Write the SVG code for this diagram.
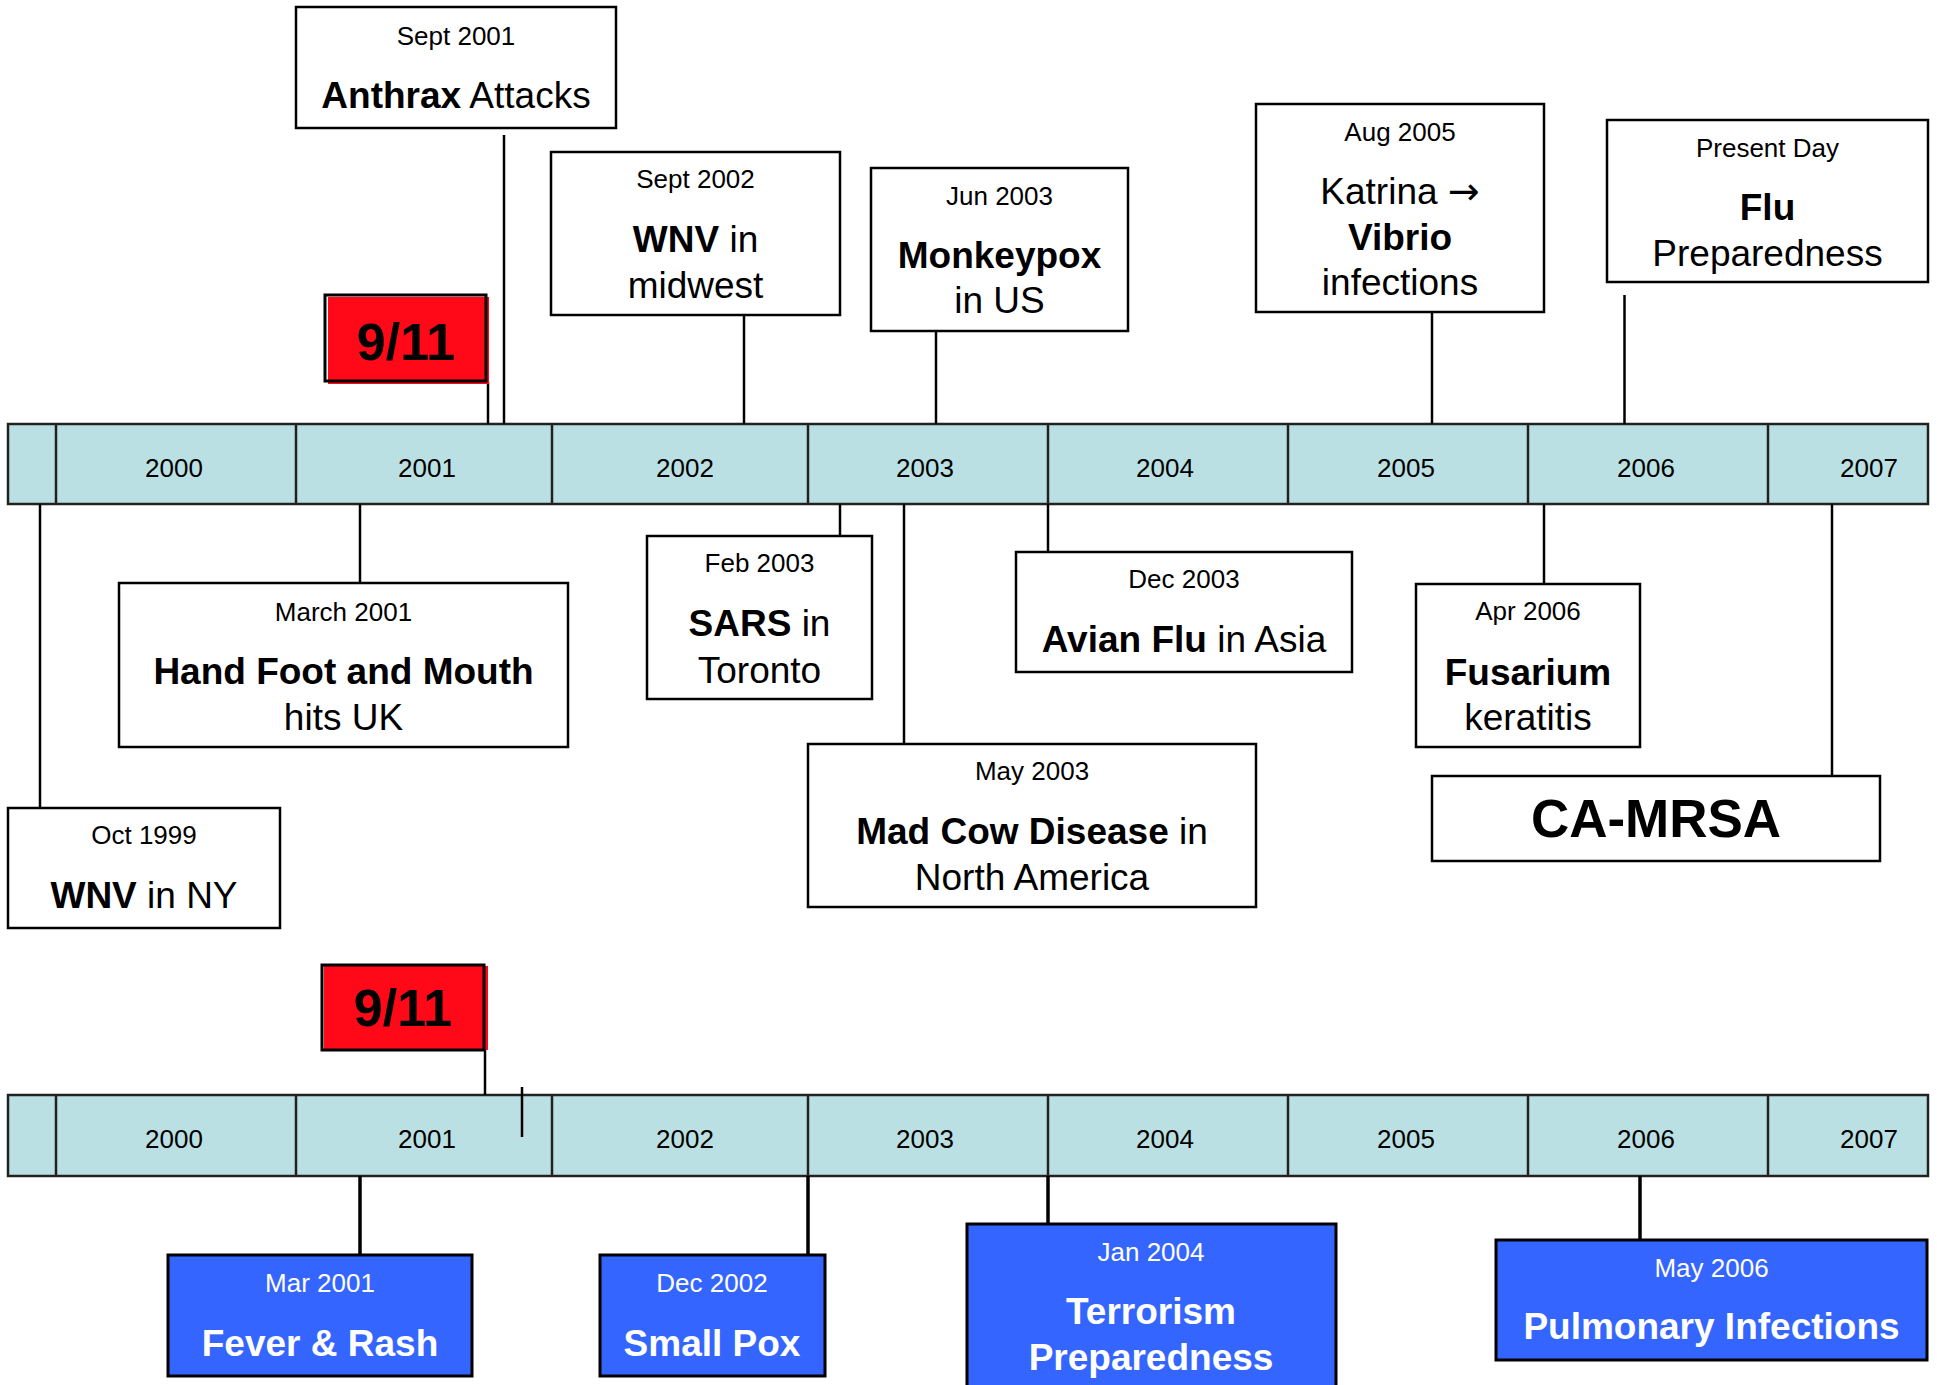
<svg xmlns="http://www.w3.org/2000/svg" width="1937" height="1385" viewBox="0 0 1937 1385">
<style>
text{font-family:"Liberation Sans",Arial,sans-serif;text-anchor:middle;fill:#000}
.d{font-size:26px}
.m{font-size:37px}
.b{font-weight:bold}
.w{fill:#fff}
.box{fill:#fff;stroke:#000;stroke-width:2.5}
.blue{fill:#3565FF;stroke:#000;stroke-width:3}
.red{fill:#FF0818}
.redo{fill:none;stroke:#000;stroke-width:3}
.bar{fill:#BAE0E3;stroke:#222;stroke-width:2.5}
.div{stroke:#222;stroke-width:2.5}
.c{stroke:#000;stroke-width:2.5;fill:none}
.c3{stroke:#000;stroke-width:3.5;fill:none}
.yr{font-size:26px}
.arr{font-family:"DejaVu Sans",sans-serif;font-size:38px}
</style>
<rect width="1937" height="1385" fill="#fff"/>

<g id="timeline-top">
<rect class="bar" x="8" y="424" width="1920" height="80"/>
<g class="div">
<line x1="56" y1="424" x2="56" y2="504"/><line x1="296" y1="424" x2="296" y2="504"/><line x1="552" y1="424" x2="552" y2="504"/><line x1="808" y1="424" x2="808" y2="504"/><line x1="1048" y1="424" x2="1048" y2="504"/><line x1="1288" y1="424" x2="1288" y2="504"/><line x1="1528" y1="424" x2="1528" y2="504"/><line x1="1768" y1="424" x2="1768" y2="504"/>
</g>
<text class="yr" x="174" y="477">2000</text><text class="yr" x="427" y="477">2001</text><text class="yr" x="685" y="477">2002</text><text class="yr" x="925" y="477">2003</text><text class="yr" x="1165" y="477">2004</text><text class="yr" x="1406" y="477">2005</text><text class="yr" x="1646" y="477">2006</text><text class="yr" x="1869" y="477">2007</text>
</g>

<g id="timeline-bottom">
<rect class="bar" x="8" y="1095" width="1920" height="81"/>
<g class="div">
<line x1="56" y1="1095" x2="56" y2="1176"/><line x1="296" y1="1095" x2="296" y2="1176"/><line x1="552" y1="1095" x2="552" y2="1176"/><line x1="808" y1="1095" x2="808" y2="1176"/><line x1="1048" y1="1095" x2="1048" y2="1176"/><line x1="1288" y1="1095" x2="1288" y2="1176"/><line x1="1528" y1="1095" x2="1528" y2="1176"/><line x1="1768" y1="1095" x2="1768" y2="1176"/>
</g>
<text class="yr" x="174" y="1148">2000</text><text class="yr" x="427" y="1148">2001</text><text class="yr" x="685" y="1148">2002</text><text class="yr" x="925" y="1148">2003</text><text class="yr" x="1165" y="1148">2004</text><text class="yr" x="1406" y="1148">2005</text><text class="yr" x="1646" y="1148">2006</text><text class="yr" x="1869" y="1148">2007</text>
</g>

<g id="connectors">
<line class="c" x1="504" y1="135" x2="504" y2="424"/>
<line class="c" x1="488" y1="382" x2="488" y2="424"/>
<line class="c" x1="744" y1="315" x2="744" y2="424"/>
<line class="c" x1="936" y1="331" x2="936" y2="424"/>
<line class="c" x1="1432" y1="312" x2="1432" y2="424"/>
<line class="c" x1="1624.5" y1="295" x2="1624.5" y2="424"/>
<line class="c" x1="40" y1="504" x2="40" y2="808"/>
<line class="c" x1="360" y1="504" x2="360" y2="583"/>
<line class="c" x1="840" y1="504" x2="840" y2="536"/>
<line class="c" x1="904" y1="504" x2="904" y2="744"/>
<line class="c" x1="1048" y1="504" x2="1048" y2="552"/>
<line class="c" x1="1544" y1="504" x2="1544" y2="584"/>
<line class="c" x1="1832" y1="504" x2="1832" y2="776"/>
<line class="c" x1="485" y1="1048" x2="485" y2="1095"/>
<line class="c" x1="522" y1="1087" x2="522" y2="1137"/>
<line class="c3" x1="360" y1="1176" x2="360" y2="1255"/>
<line class="c3" x1="808" y1="1176" x2="808" y2="1255"/>
<line class="c3" x1="1048" y1="1176" x2="1048" y2="1224"/>
<line class="c3" x1="1640" y1="1176" x2="1640" y2="1240"/>
</g>

<g id="anthrax">
<rect class="box" x="296" y="7" width="320" height="121"/>
<text class="d" x="456" y="45">Sept 2001</text>
<text class="m" x="456" y="108"><tspan class="b">Anthrax</tspan> Attacks</text>
</g>

<g id="nine-eleven-top">
<rect class="red" x="328" y="297" width="161" height="87"/>
<rect class="redo" x="325" y="295" width="161" height="86"/>
<text x="406" y="360" class="b" style="font-size:52px">9/11</text>
</g>

<g id="wnv-midwest">
<rect class="box" x="551" y="152" width="289" height="163"/>
<text class="d" x="695.5" y="188">Sept 2002</text>
<text class="m" x="695.5" y="252"><tspan class="b">WNV</tspan> in</text>
<text class="m" x="695.5" y="298">midwest</text>
</g>

<g id="monkeypox">
<rect class="box" x="871" y="168" width="257" height="163"/>
<text class="d" x="999.5" y="205">Jun 2003</text>
<text class="m b" x="999.5" y="268">Monkeypox</text>
<text class="m" x="999.5" y="313">in US</text>
</g>

<g id="katrina">
<rect class="box" x="1256" y="104" width="288" height="208"/>
<text class="d" x="1400" y="141">Aug 2005</text>
<text class="m" x="1400" y="204">Katrina <tspan class="arr">→</tspan></text>
<text class="m b" x="1400" y="250">Vibrio</text>
<text class="m" x="1400" y="295">infections</text>
</g>

<g id="flu">
<rect class="box" x="1607" y="120" width="321" height="162"/>
<text class="d" x="1767.5" y="157">Present Day</text>
<text class="m b" x="1767.5" y="220">Flu</text>
<text class="m" x="1767.5" y="266">Preparedness</text>
</g>

<g id="wnv-ny">
<rect class="box" x="8" y="808" width="272" height="120"/>
<text class="d" x="144" y="844">Oct 1999</text>
<text class="m" x="144" y="908"><tspan class="b">WNV</tspan> in NY</text>
</g>

<g id="hand-foot-mouth">
<rect class="box" x="119" y="583" width="449" height="164"/>
<text class="d" x="343.5" y="621">March 2001</text>
<text class="m b" x="343.5" y="684">Hand Foot and Mouth</text>
<text class="m" x="343.5" y="730">hits UK</text>
</g>

<g id="sars">
<rect class="box" x="647" y="536" width="225" height="163"/>
<text class="d" x="759.5" y="572">Feb 2003</text>
<text class="m" x="759.5" y="636"><tspan class="b">SARS</tspan> in</text>
<text class="m" x="759.5" y="683">Toronto</text>
</g>

<g id="mad-cow">
<rect class="box" x="808" y="744" width="448" height="163"/>
<text class="d" x="1032" y="780">May 2003</text>
<text class="m" x="1032" y="844"><tspan class="b">Mad Cow Disease</tspan> in</text>
<text class="m" x="1032" y="890">North America</text>
</g>

<g id="avian-flu">
<rect class="box" x="1016" y="552" width="336" height="120"/>
<text class="d" x="1184" y="588">Dec 2003</text>
<text class="m" x="1184" y="652"><tspan class="b">Avian Flu</tspan> in Asia</text>
</g>

<g id="fusarium">
<rect class="box" x="1416" y="584" width="224" height="163"/>
<text class="d" x="1528" y="620">Apr 2006</text>
<text class="m b" x="1528" y="685">Fusarium</text>
<text class="m" x="1528" y="730">keratitis</text>
</g>

<g id="ca-mrsa">
<rect class="box" x="1432" y="776" width="448" height="85"/>
<text x="1656" y="837" class="b" style="font-size:53px">CA-MRSA</text>
</g>

<g id="nine-eleven-bottom">
<rect class="red" x="324" y="966" width="164" height="84"/>
<rect class="redo" x="322" y="965" width="162" height="85"/>
<text x="403" y="1026" class="b" style="font-size:52px">9/11</text>
</g>

<g id="fever-rash">
<rect class="blue" x="168" y="1255" width="304" height="121"/>
<text class="d w" x="320" y="1292">Mar 2001</text>
<text class="m b w" x="320" y="1356">Fever &amp; Rash</text>
</g>

<g id="small-pox">
<rect class="blue" x="600" y="1255" width="225" height="121"/>
<text class="d w" x="712" y="1292">Dec 2002</text>
<text class="m b w" x="712" y="1356">Small Pox</text>
</g>

<g id="terrorism">
<rect class="blue" x="967" y="1224" width="369" height="180"/>
<text class="d w" x="1151" y="1261">Jan 2004</text>
<text class="m b w" x="1151" y="1324">Terrorism</text>
<text class="m b w" x="1151" y="1370">Preparedness</text>
</g>

<g id="pulmonary">
<rect class="blue" x="1496" y="1240" width="431" height="120"/>
<text class="d w" x="1711.5" y="1277">May 2006</text>
<text class="m b w" x="1711.5" y="1339">Pulmonary Infections</text>
</g>
</svg>
